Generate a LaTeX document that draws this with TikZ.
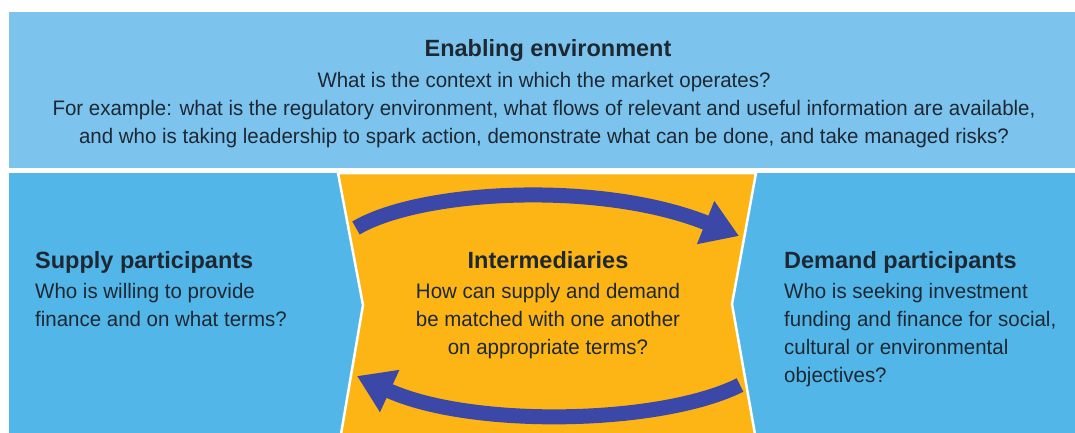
\documentclass[tikz,border=0pt]{standalone}
\usepackage{fontspec}
\setmainfont{Liberation Sans}
\newfontfamily\bodyfont[FakeStretch=0.975]{Liberation Sans}
\usetikzlibrary{arrows.meta}
\definecolor{topblue}{HTML}{7CC4EE}
\definecolor{lowblue}{HTML}{52B6E8}
\definecolor{midyellow}{HTML}{FDB515}
\definecolor{arrowblue}{HTML}{3B48A8}
\definecolor{txt}{HTML}{1E2833}
\tikzset{
  headtxt/.style={font=\fontsize{23.5}{28}\selectfont\bfseries, text=txt, inner sep=0pt},
  bodytxt/.style={font=\bodyfont\fontsize{21}{28}\selectfont, text=txt, inner sep=0pt},
  flow/.style={draw=arrowblue, line width=15pt, -{Triangle[length=36pt,width=44pt]}},
}
\begin{document}
\begin{tikzpicture}[x=1pt,y=-1pt]
  \useasboundingbox (0,0) rectangle (1075,432);
  \begin{scope}
    \clip (0,0) rectangle (1075,432);
    \fill[white] (0,0) rectangle (1075,432);
    \fill[topblue] (9,12) rectangle (1075,168);
    \fill[lowblue] (9,173) rectangle (1075,440);
    \filldraw[fill=midyellow, draw=white, line width=2.5pt]
      (338,173) -- (363,305) -- (340,440) -- (756,440) -- (732,304) -- (756,173) -- cycle;
  \end{scope}

  % top band text (base anchor = baseline of the last line)
  \node[headtxt, anchor=base] (envhead) at (548,56) {Enabling environment};
  \node[bodytxt, anchor=base, align=center] (envbody) at (544,143)
    {What is the context in which the market operates?\\
     For example: what is the regulatory environment, what flows of relevant and useful information are available,\\
     and who is taking leadership to spark action, demonstrate what can be done, and take managed risks?};

  % supply
  \node[headtxt, anchor=base west] (suphead) at (35,268) {Supply participants};
  \node[bodytxt, anchor=base west, align=left] (supbody) at (35,326)
    {Who is willing to provide\\finance and on what terms?};

  % intermediaries
  \node[headtxt, anchor=base] (inthead) at (548,268) {Intermediaries};
  \node[bodytxt, anchor=base, align=center] (intbody) at (548,354)
    {How can supply and demand\\be matched with one another\\on appropriate terms?};

  % demand
  \node[headtxt, anchor=base west] (demhead) at (784,268) {Demand participants};
  \node[bodytxt, anchor=base west, align=left] (dembody) at (784,382)
    {Who is seeking investment\\funding and finance for social,\\cultural or environmental\\objectives?};

  % flows
  \coordinate (toptail) at (356,228);
  \coordinate (toptip) at (739,236);
  \coordinate (bottail) at (740,385);
  \coordinate (bottip) at (357,376);
  \draw[flow] (toptail) .. controls (420,190) and (600,180) .. (toptip);
  \draw[flow] (bottail) .. controls (660,425) and (470,428) .. (bottip);
\end{tikzpicture}
\end{document}
